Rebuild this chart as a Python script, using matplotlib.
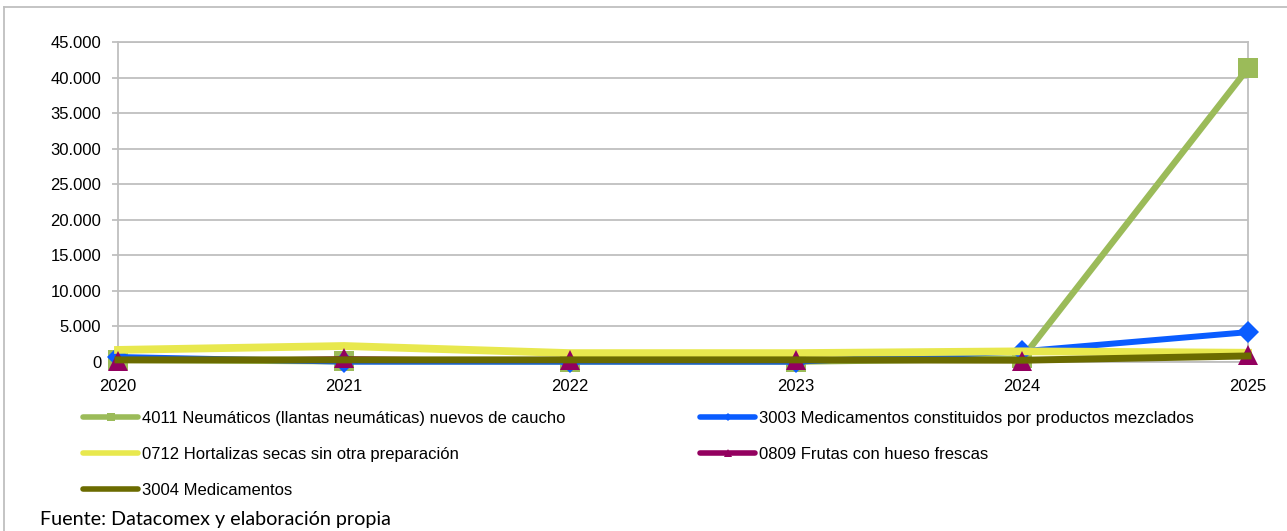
import matplotlib
matplotlib.use("Agg")
import matplotlib.pyplot as plt
from matplotlib.lines import Line2D
from matplotlib.ticker import FuncFormatter

# ================== Data ==================
YEARS = [2020, 2021, 2022, 2023, 2024, 2025]

NEUMATICOS_4011 = [300, 100, 50, 50, 500, 41300]
MEDICAMENTOS_3003 = [700, 50, 50, 50, 1500, 4200]
HORTALIZAS_0712 = [1700, 2250, 1250, 1250, 1500, 1300]
FRUTAS_0809 = [100, 600, 250, 250, 150, 1000]
MEDICAMENTOS_3004 = [300, 300, 300, 300, 250, 850]

LABELS = [
    "4011 Neumáticos (llantas neumáticas) nuevos de caucho",
    "3003 Medicamentos constituidos por productos mezclados",
    "0712 Hortalizas secas sin otra preparación",
    "0809 Frutas con hueso frescas",
    "3004 Medicamentos",
]
SOURCE = "Fuente: Datacomex y elaboración propia"

# ================== Style ==================
COLORS = ["#9BBB59", "#0A5CFF", "#E8E84E", "#93005F", "#6B6B00"]
MARKERS = ["s", "D", None, "^", None]
MARKER_SIZES = [14, 11, 0, 15, 0]
LINE_WIDTHS = [4.6, 4.3, 5.6, 2.3, 5.0]
GRID_COLOR = "#BFBFBF"
FONT = "Liberation Sans"

plt.rcParams["font.family"] = [FONT, "DejaVu Sans"]

fig = plt.figure(figsize=(12.87, 5.31), dpi=100)
ax = fig.add_axes([118 / 1287, 1 - 362 / 531, (1248 - 118) / 1287, 320 / 531])

series = [NEUMATICOS_4011, MEDICAMENTOS_3003, HORTALIZAS_0712,
          FRUTAS_0809, MEDICAMENTOS_3004]
for i, values in enumerate(series):
    ax.plot(YEARS, values, color=COLORS[i], linewidth=LINE_WIDTHS[i],
            marker=MARKERS[i], markersize=MARKER_SIZES[i],
            markeredgewidth=0, solid_joinstyle="miter",
            zorder=3 + i, clip_on=False)

ax.set_xlim(2020, 2025)
ax.set_ylim(0, 45000)
ax.set_xticks(YEARS)
ax.set_yticks(range(0, 45001, 5000))
ax.yaxis.set_major_formatter(
    FuncFormatter(lambda v, _: f"{int(v):,}".replace(",", ".")))
ax.grid(axis="y", color=GRID_COLOR, linewidth=1.3)
ax.set_axisbelow(True)
for side in ("left", "right", "top", "bottom"):
    ax.spines[side].set_color(GRID_COLOR)
    ax.spines[side].set_linewidth(1.3)
ax.tick_params(axis="y", length=4, color=GRID_COLOR, width=1.3,
               pad=8, labelsize=12)
ax.tick_params(axis="x", length=0, pad=12, labelsize=12)

# ================== Legend ==================
def legend_handle(i):
    msize = {"s": 6, "D": 4, "^": 6}.get(MARKERS[i], 0)
    return Line2D([], [], color=COLORS[i], linewidth=4,
                  solid_capstyle="round", marker=MARKERS[i],
                  markersize=msize, markeredgewidth=0)

legend_kw = dict(frameon=False, fontsize=12, handlelength=3.3,
                 handletextpad=0.25, labelspacing=1.25, borderpad=0,
                 borderaxespad=0, loc="upper left")
fig.legend([legend_handle(i) for i in (0, 2, 4)],
           [LABELS[i] for i in (0, 2, 4)],
           bbox_to_anchor=(83 / 1287, 1 - 411 / 531), **legend_kw)
fig.legend([legend_handle(i) for i in (1, 3)],
           [LABELS[i] for i in (1, 3)],
           bbox_to_anchor=(700 / 1287, 1 - 411 / 531), **legend_kw)

fig.text(40 / 1287, 1 - 520 / 531, SOURCE, fontsize=14.2,
         family=["Lato", "DejaVu Sans"], va="center", ha="left")

# outer chart border
fig.add_artist(Line2D([4 / 1287, 1], [1 - 6.5 / 531] * 2,
                      transform=fig.transFigure, color="#BFBFBF", lw=1.3))
fig.add_artist(Line2D([4 / 1287] * 2, [0, 1 - 6.5 / 531],
                      transform=fig.transFigure, color="#BFBFBF", lw=1.3))

fig.savefig("out.png", dpi=100)
